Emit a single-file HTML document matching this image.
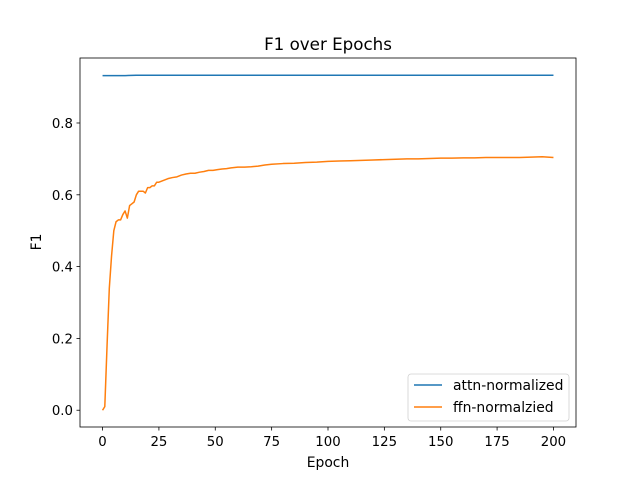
<!DOCTYPE html>
<html><head><meta charset="utf-8"><style>body{margin:0;background:#fff}svg{display:block;font-family:"DejaVu Sans","Liberation Sans",sans-serif}</style></head>
<body>
<svg id="chart" width="640" height="480" viewBox="0 0 640 480">
<rect width="640" height="480" fill="#fff"/>
<text x="328" y="50" text-anchor="middle" font-size="16.7">F1 over Epochs</text>
<g id="plot"></g>
<rect x="80" y="58" width="496" height="369" fill="none" stroke="#000" stroke-width="0.8"/>
<text x="328" y="467" text-anchor="middle" font-size="13.9">Epoch</text>
<text x="41" y="242" text-anchor="middle" font-size="13.9" transform="rotate(-90 41 242)">F1</text>
<g>
<rect x="408" y="374" width="161" height="47" rx="3" fill="#fff" stroke="#ccc" stroke-width="0.8" opacity="0.9"/>
<line x1="414" y1="385" x2="442" y2="385" stroke="#1f77b4" stroke-width="1.5"/>
<text x="453" y="390" font-size="13.9">attn-normalized</text>
<line x1="414" y1="407" x2="442" y2="407" stroke="#ff7f0e" stroke-width="1.5"/>
<text x="453" y="412" font-size="13.9">ffn-normalzied</text>
</g>
</svg>
<script>
const attnEpochs=[0,5,10,15,20,50,100,150,200];
const attnValues=[0.932,0.932,0.932,0.933,0.933,0.933,0.933,0.933,0.933];
const ffnEpochs=[0,1,2,3,4,5,6,7,8,9,10,11,12,13,14,15,16,17,18,19,20,21,22,23,24,25,27,29,31,33,35,37,39,41,43,45,47,49,51,53,55,57,60,63,66,69,72,75,80,85,90,95,100,105,110,115,120,125,130,135,140,145,150,155,160,165,170,175,180,185,190,195,200];
const ffnValues=[0.0,0.01,0.18,0.34,0.43,0.50,0.525,0.53,0.53,0.545,0.555,0.535,0.57,0.575,0.58,0.60,0.61,0.61,0.61,0.605,0.62,0.62,0.625,0.625,0.635,0.635,0.64,0.645,0.648,0.65,0.655,0.658,0.66,0.66,0.663,0.665,0.668,0.668,0.67,0.672,0.673,0.675,0.677,0.677,0.678,0.68,0.683,0.685,0.687,0.688,0.69,0.691,0.693,0.694,0.695,0.696,0.697,0.698,0.699,0.700,0.700,0.701,0.702,0.702,0.703,0.703,0.704,0.704,0.704,0.704,0.705,0.706,0.704];
const xTicks=[0,25,50,75,100,125,150,175,200];
const yTicks=[0.0,0.2,0.4,0.6,0.8];
const NS='http://www.w3.org/2000/svg';
const L=80,R=576,T=58,B=427,xmin=-10,xmax=210,ymin=-0.0467,ymax=0.981;
const sx=v=>L+(v-xmin)/(xmax-xmin)*(R-L);
const sy=v=>B-(v-ymin)/(ymax-ymin)*(B-T);
const g=document.getElementById('plot');
function mk(t,a){const e=document.createElementNS(NS,t);for(const k in a)e.setAttribute(k,a[k]);g.appendChild(e);return e;}
xTicks.forEach(t=>{const x=sx(t);
const l=mk('line',{x1:x,x2:x,y1:B,y2:B+3.5,stroke:'#000','stroke-width':0.8});


const tx=mk('text',{x:x,y:B+19,'text-anchor':'middle','font-size':13.3});tx.textContent=t;

});
yTicks.forEach(t=>{const y=sy(t);
const l=mk('line',{x1:L-3.5,x2:L,y1:y,y2:y,stroke:'#000','stroke-width':0.8});


const tx=mk('text',{x:L-7,y:y+5,'text-anchor':'end','font-size':13.3});tx.textContent=t.toFixed(1);

});
function line(xs,ys,c,name){const p=mk('polyline',{points:xs.map((x,i)=>sx(x)+','+sy(ys[i])).join(' '),fill:'none',stroke:c,'stroke-width':1.5,'stroke-linejoin':'round'});

}
line(attnEpochs,attnValues,'#1f77b4','attn-normalized-line');
line(ffnEpochs,ffnValues,'#ff7f0e','ffn-normalized-line');
</script>
</body></html>
